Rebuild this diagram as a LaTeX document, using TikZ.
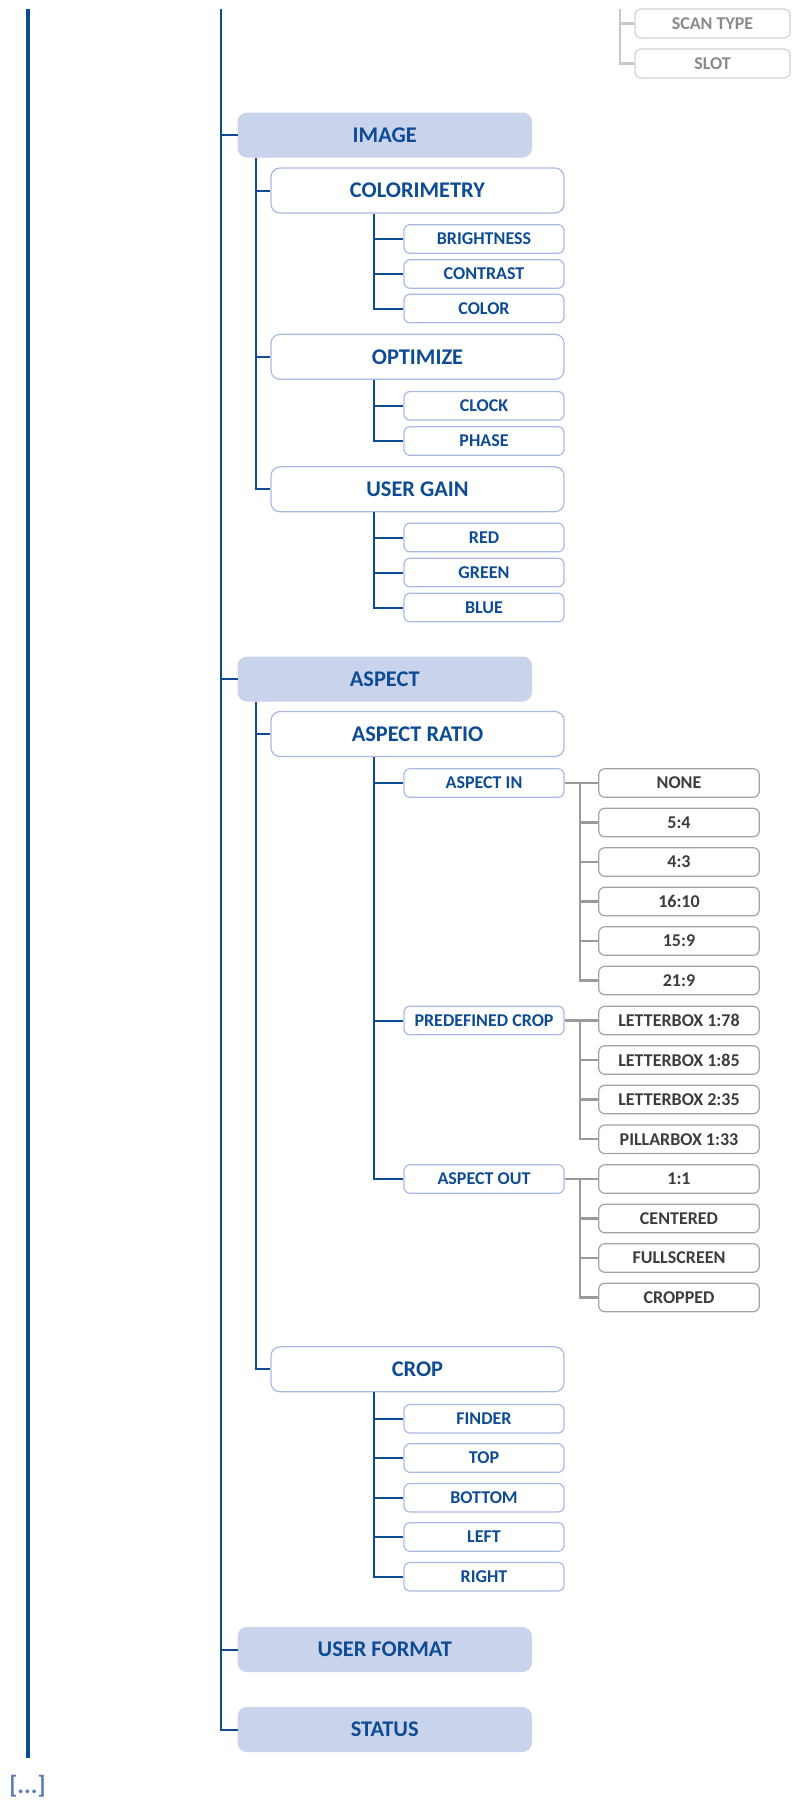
\documentclass[tikz,border=0pt]{standalone}
\usepackage{fontspec}
\setmainfont{Carlito}
\definecolor{dblue}{HTML}{0D4C95}
\definecolor{catfill}{HTML}{C9D3EB}
\definecolor{subdraw}{HTML}{AAB9E3}
\definecolor{optdraw}{HTML}{A3A3A3}
\definecolor{opttext}{HTML}{3C3C3C}
\definecolor{glinec}{HTML}{9A9A9A}
\definecolor{fdraw}{HTML}{D2D2D2}
\definecolor{ftext}{HTML}{8A8A8A}
\definecolor{flinec}{HTML}{C8C8C8}
\definecolor{dots}{HTML}{5B7DB4}
\newcommand\mybigfont{\fontsize{11.2}{13}\selectfont\bfseries}
\newcommand\mysmallfont{\fontsize{9}{11}\selectfont\bfseries}
\newcommand\mydotsfont{\fontsize{12.5}{14}\selectfont\bfseries}
\tikzset{
  cat/.style={rounded corners=4.5pt, fill=catfill, draw=catfill, line width=0.5pt, minimum width=146.75pt, minimum height=22pt, inner sep=0pt, font=\mybigfont, text=dblue},
  sub/.style={rounded corners=4.5pt, fill=white, draw=subdraw, line width=0.6pt, minimum width=146.5pt, minimum height=22.5pt, inner sep=0pt, font=\mybigfont, text=dblue},
  leaf/.style={rounded corners=3pt, fill=white, draw=subdraw, line width=0.6pt, minimum width=80pt, minimum height=14.25pt, inner sep=0pt, font=\mysmallfont, text=dblue},
  opt/.style={rounded corners=3pt, fill=white, draw=optdraw, line width=0.6pt, minimum width=80.25pt, minimum height=14.25pt, inner sep=0pt, font=\mysmallfont, text=opttext},
  faded/.style={rounded corners=3pt, fill=white, draw=fdraw, line width=0.6pt, minimum width=77.5pt, minimum height=14.5pt, inner sep=0pt, font=\mysmallfont, text=ftext},
  bl/.style={draw=dblue, line width=1pt},
  thick trunk/.style={draw=dblue, line width=2.3pt},
  gl/.style={draw=glinec, line width=1.1pt},
  fl/.style={draw=flinec, line width=1.1pt}
}
\begin{document}
\begin{tikzpicture}[x=0.5pt, y=-0.5pt]
\useasboundingbox (0,0) rectangle (792,1800);

% trunks
\coordinate (k1) at (27.8,9);
\coordinate (k2) at (27.8,1758);
\coordinate (t1) at (221,9);
\coordinate (f1) at (620,9);

% faded top-right
\node[faded] (scantype) at (712.5,23.5) {SCAN TYPE};
\node[faded] (slot) at (712.5,63.5) {SLOT};

% level 1
\node[cat] (image) at (384.75,135) {IMAGE};
\node[cat] (aspect) at (384.75,679) {ASPECT};
\node[cat] (userformat) at (384.75,1649.5) {USER FORMAT};
\node[cat] (status) at (384.75,1729.5) {STATUS};

% level 2
\node[sub] (colorimetry) at (417.5,190.5) {COLORIMETRY};
\node[sub] (optimize) at (417.5,356.8) {OPTIMIZE};
\node[sub] (usergain) at (417.5,489.3) {USER GAIN};
\node[sub] (aspectratio) at (417.5,734) {ASPECT RATIO};
\node[sub] (crop) at (417.5,1369.3) {CROP};

% level 3
\node[leaf] (brightness) at (484,239) {BRIGHTNESS};
\node[leaf] (contrast) at (484,274) {CONTRAST};
\node[leaf] (color) at (484,308.5) {COLOR};
\node[leaf] (clock) at (484,405.8) {CLOCK};
\node[leaf] (phase) at (484,441) {PHASE};
\node[leaf] (red) at (484,537.5) {RED};
\node[leaf] (green) at (484,572.5) {GREEN};
\node[leaf] (blue) at (484,607.5) {BLUE};
\node[leaf] (aspectin) at (484,783) {ASPECT IN};
\node[leaf] (predef) at (484,1020.5) {PREDEFINED CROP};
\node[leaf] (aspectout) at (484,1179) {ASPECT OUT};
\node[leaf] (finder) at (484,1418.7) {FINDER};
\node[leaf] (top) at (484,1458) {TOP};
\node[leaf] (bottom) at (484,1497.7) {BOTTOM};
\node[leaf] (left) at (484,1537) {LEFT};
\node[leaf] (right) at (484,1576.7) {RIGHT};

% options
\node[opt] (none) at (679,783) {NONE};
\node[opt] (r54) at (679,822.5) {5:4};
\node[opt] (r43) at (679,862) {4:3};
\node[opt] (r1610) at (679,901.5) {16:10};
\node[opt] (r159) at (679,941) {15:9};
\node[opt] (r219) at (679,980.5) {21:9};
\node[opt] (lb178) at (679,1020.5) {LETTERBOX 1:78};
\node[opt] (lb185) at (679,1060) {LETTERBOX 1:85};
\node[opt] (lb235) at (679,1099.5) {LETTERBOX 2:35};
\node[opt] (pb133) at (679,1139.3) {PILLARBOX 1:33};
\node[opt] (o11) at (679,1179) {1:1};
\node[opt] (centered) at (679,1218.5) {CENTERED};
\node[opt] (fullscreen) at (679,1258) {FULLSCREEN};
\node[opt] (cropped) at (679,1297.5) {CROPPED};

\node[font=\mydotsfont, text=dots, inner sep=0pt] (more) at (27.5,1786) {[...]};

% thick trunk
\draw[thick trunk] (k1) -- (k2);

% faded connectors
\draw[fl] (f1) |- (scantype.west);
\draw[fl] (f1) |- (slot.west);

% main thin trunk
\foreach \n in {image,aspect,userformat,status} \draw[bl] (t1) |- (\n.west);

% level 1 -> level 2
\foreach \n in {colorimetry,optimize,usergain} \draw[bl] ([xshift=9.25pt]image.south west) |- (\n.west);
\foreach \n in {aspectratio,crop} \draw[bl] ([xshift=9.25pt]aspect.south west) |- (\n.west);

% level 2 -> level 3
\foreach \n in {brightness,contrast,color} \draw[bl] ([xshift=52pt]colorimetry.south west) |- (\n.west);
\foreach \n in {clock,phase} \draw[bl] ([xshift=52pt]optimize.south west) |- (\n.west);
\foreach \n in {red,green,blue} \draw[bl] ([xshift=52pt]usergain.south west) |- (\n.west);
\foreach \n in {aspectin,predef,aspectout} \draw[bl] ([xshift=52pt]aspectratio.south west) |- (\n.west);
\foreach \n in {finder,top,bottom,left,right} \draw[bl] ([xshift=52pt]crop.south west) |- (\n.west);

% level 3 -> options
\draw[gl] (aspectin.east) -- (none.west);
\foreach \n in {r54,r43,r1610,r159,r219} \draw[gl] ([xshift=-9pt]none.west) |- (\n.west);
\draw[gl] (predef.east) -- (lb178.west);
\foreach \n in {lb185,lb235,pb133} \draw[gl] ([xshift=-9pt]lb178.west) |- (\n.west);
\draw[gl] (aspectout.east) -- (o11.west);
\foreach \n in {centered,fullscreen,cropped} \draw[gl] ([xshift=-9pt]o11.west) |- (\n.west);
\end{tikzpicture}
\end{document}
